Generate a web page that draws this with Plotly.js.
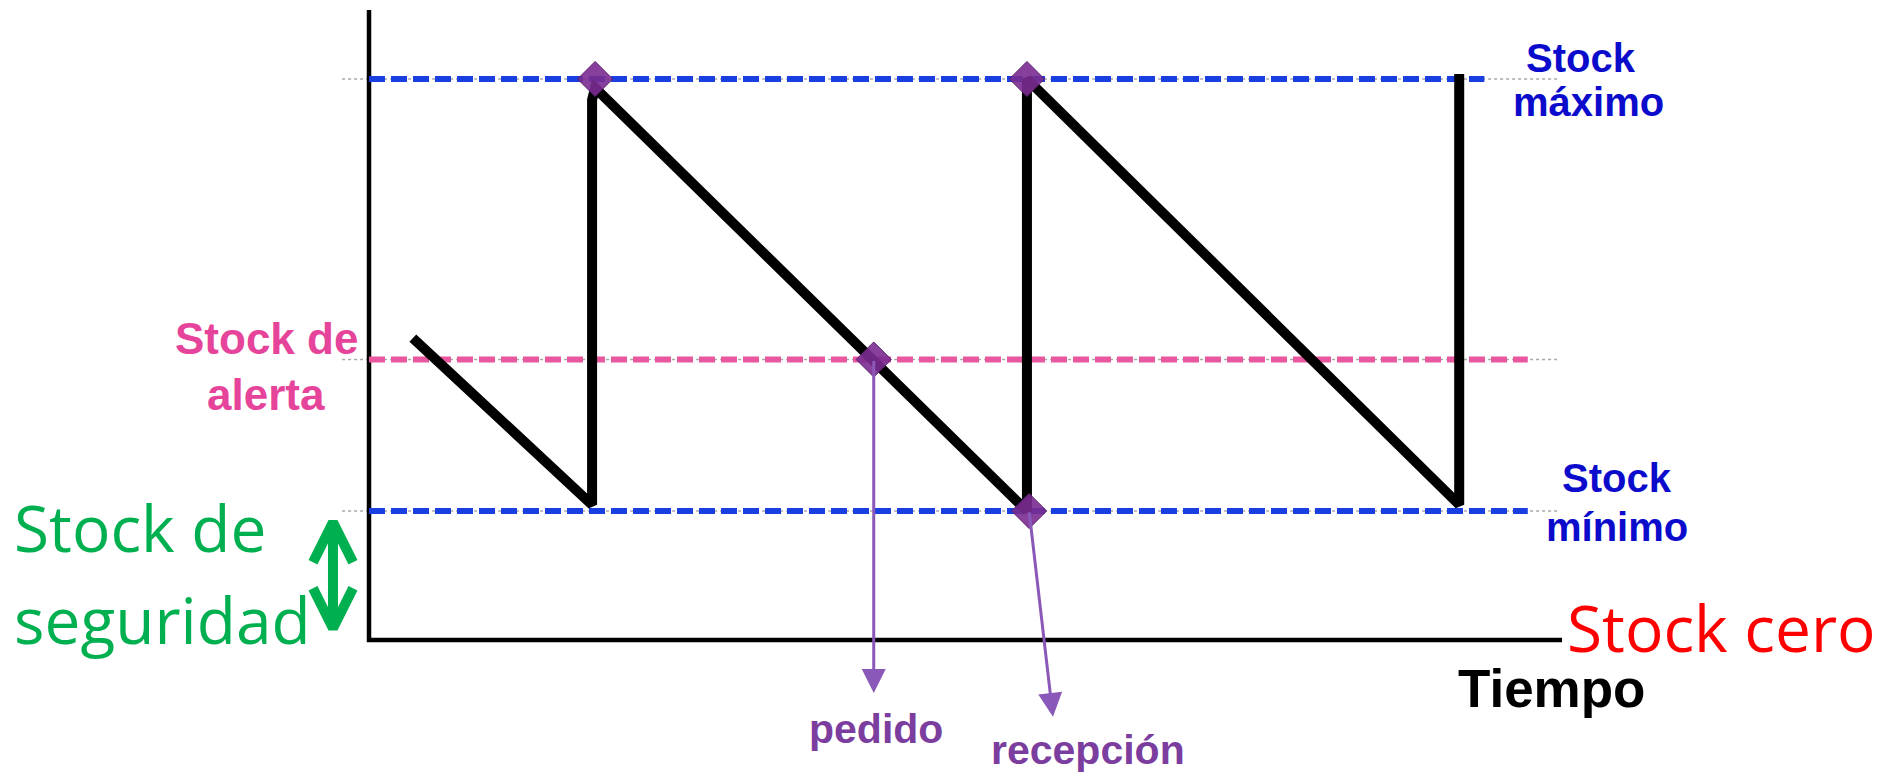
<!DOCTYPE html>
<html>
<head>
<meta charset="utf-8">
<script src="https://cdn.plot.ly/plotly-3.0.1.min.js"></script>
<style>
  html, body { margin: 0; padding: 0; background: #ffffff; }
  #chart { width: 1883px; height: 776px; }
</style>
</head>
<body>
<div id="chart"></div>
<script>
// ------------------------------------------------------------
// Inventory sawtooth: stock levels over time
// ------------------------------------------------------------

// stock levels (stock units, Stock cero = 0)
const levelNames = ['max', 'alerta', 'min'];
const levelValues = [100, 50, 23];
const levelDashEnd = [25.7, 26.7, 26.7];   // time where the coloured dashes stop
const levelGuideEnd = [27.44, 27.44, 27.44]; // thin dotted guide end
const guideStart = -0.62;

// sawtooth stock curve
const sawTime = [1.01, 5.14, 5.14, 5.21, 15.16, 15.16, 25.12, 25.12];
const sawStock = [53.8, 24.1, 96.3, 98.4, 23.0, 100.0, 24.1, 100.9];

// marked events (diamonds)
const eventTime = [5.21, 15.16, 11.63, 15.21];
const eventStock = [100, 100, 50, 23];

// axis extent
const timeMax = 27.49;
const stockTop = 112.3;

// pedido / recepción pointers: [fromTime, fromStock, toTime, toStock]
const pedidoArrow = [11.63, 50, 11.63, -9.45];
const recepcionArrow = [15.21, 23, 15.76, -13.7];

// safety-stock double arrow (stock range)
const safetyArrowTime = -0.83;
const safetyArrowStock = [21.0, 2.1];

// ------------------------------------------------------------
// pixel <-> data helpers (for text placement only)
// ------------------------------------------------------------
const T0 = 369, PX_T = 43.4;
const S0 = 640, PX_S = 5.61;
function tx(px) { return (px - T0) / PX_T; }
function sy(py) { return (S0 - py) / PX_S; }

const BLUE_LINE = '#1a3fe0';
const BLUE_TEXT = '#0b0bcc';
const PINK_LINE = '#e8579f';
const PINK_TEXT = '#e6449a';
const PURPLE = '#7b3e9f';
const ARROW_PURPLE = '#8a58b8';
const GREEN = '#00b050';

const traces = [];

// thin dotted guides behind each level
levelValues.forEach((v, i) => {
  traces.push({
    x: [guideStart, levelGuideEnd[i]],
    y: [v, v],
    mode: 'lines',
    line: { color: '#a8a8a8', width: 1.5, dash: 'dot' },
    hoverinfo: 'skip'
  });
});

// axes (stock axis + time axis)
traces.push({
  x: [0, 0, timeMax],
  y: [stockTop, 0, 0],
  mode: 'lines',
  line: { color: '#000000', width: 4.5 },
  hoverinfo: 'skip'
});

// level dashed lines
levelValues.forEach((v, i) => {
  traces.push({
    x: [0, levelDashEnd[i]],
    y: [v, v],
    mode: 'lines',
    line: {
      color: levelNames[i] === 'alerta' ? PINK_LINE : BLUE_LINE,
      width: 6,
      dash: '16px,6px'
    },
    name: levelNames[i],
    hoverinfo: 'skip'
  });
});

// sawtooth
traces.push({
  x: sawTime,
  y: sawStock,
  mode: 'lines',
  line: { color: '#000000', width: 10 },
  hoverinfo: 'skip'
});

// event diamonds
traces.push({
  x: eventTime,
  y: eventStock,
  mode: 'markers',
  marker: {
    symbol: 'diamond',
    size: 27,
    color: 'rgba(122, 44, 145, 0.9)',
    line: { color: '#5b1e6e', width: 1 }
  },
  hoverinfo: 'skip'
});

// safety stock double arrow
const aTop = safetyArrowStock[0], aBot = safetyArrowStock[1];
const headW = tx(353) - tx(333);
const headH = sy(522) - sy(562);
traces.push({
  x: [safetyArrowTime, safetyArrowTime, null,
      safetyArrowTime - headW, safetyArrowTime, safetyArrowTime + headW, null,
      safetyArrowTime - headW, safetyArrowTime, safetyArrowTime + headW],
  y: [aTop - 1, aBot + 1, null,
      aTop - headH, aTop, aTop - headH, null,
      aBot + headH, aBot, aBot + headH],
  mode: 'lines',
  line: { color: GREEN, width: 10 },
  hoverinfo: 'skip'
});

function label(text, px, py, color, size, family, xanchor) {
  return {
    x: tx(px), y: sy(py), xref: 'x', yref: 'y',
    text: text, showarrow: false,
    xanchor: xanchor || 'center', yanchor: 'middle',
    font: { family: family, size: size, color: color }
  };
}

const ARIAL = 'Liberation Sans, Arial, sans-serif';
const CALIBRI = 'Open Sans, sans-serif';

const annotations = [
  label('<b>Stock</b>', 1581, 58, BLUE_TEXT, 40, ARIAL),
  label('<b>máximo</b>', 1588, 102, BLUE_TEXT, 40, ARIAL),
  label('<b>Stock</b>', 1617, 478, BLUE_TEXT, 40, ARIAL),
  label('<b>mínimo</b>', 1617, 527, BLUE_TEXT, 40, ARIAL),
  label('<b>Stock de</b>', 266, 338, PINK_TEXT, 44, ARIAL),
  label('<b>alerta</b>', 266, 394, PINK_TEXT, 44, ARIAL),
  label('<b>Tiempo</b>', 1552, 688, '#000000', 53, ARIAL),
  label('<b>pedido</b>', 876, 729, PURPLE, 41, ARIAL),
  label('<b>recepción</b>', 1088, 750, PURPLE, 41, ARIAL),
  label('Stock de', 12, 527, GREEN, 64, CALIBRI, 'left'),
  label('seguridad', 12, 619, GREEN, 64, CALIBRI, 'left'),
  label('Stock cero', 1565, 627, '#ff0000', 64, CALIBRI, 'left')
];

[pedidoArrow, recepcionArrow].forEach(a => {
  annotations.push({
    x: a[2], y: a[3], xref: 'x', yref: 'y',
    ax: a[0], ay: a[1], axref: 'x', ayref: 'y',
    text: '', showarrow: true,
    arrowhead: 2, arrowsize: 1.6, arrowwidth: 3,
    arrowcolor: ARROW_PURPLE
  });
});

const layout = {
  width: 1883,
  height: 776,
  margin: { l: 0, r: 0, t: 0, b: 0 },
  paper_bgcolor: '#ffffff',
  plot_bgcolor: '#ffffff',
  showlegend: false,
  xaxis: {
    range: [tx(0), tx(1883)],
    visible: false,
    fixedrange: true
  },
  yaxis: {
    range: [sy(776), sy(0)],
    visible: false,
    fixedrange: true
  },
  annotations: annotations,
  hovermode: false
};

Plotly.newPlot('chart', traces, layout, { displayModeBar: false, staticPlot: true });
</script>
</body>
</html>
